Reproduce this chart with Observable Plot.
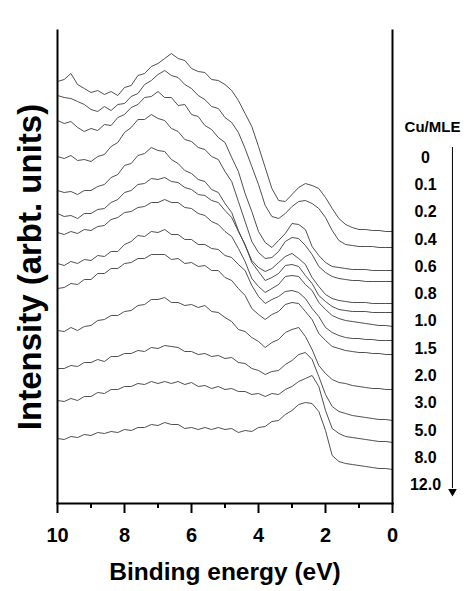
<!DOCTYPE html>
<html><head><meta charset="utf-8">
<script src="https://cdn.jsdelivr.net/npm/d3@7"></script>
<script src="https://cdn.jsdelivr.net/npm/@observablehq/plot@0.6"></script>
<style>body{margin:0;background:#fff}</style>
</head><body><div id="chart"></div>
<script>
// Binding energy grid (eV)
const energy = [10,9.8,9.6,9.4,9.2,9.0,8.8,8.6,8.4,8.2,8.0,7.8,7.6,7.4,7.2,7.0,6.8,6.6,6.4,6.2,6.0,5.8,5.6,5.4,5.2,5.0,4.8,4.6,4.4,4.2,4.0,3.8,3.6,3.4,3.2,3.0,2.8,2.6,2.4,2.2,2.0,1.8,1.6,1.4,1.2,1.0,0.8,0.6,0.4,0.2,0];
const coverage = ["0","0.1","0.2","0.4","0.6","0.8","1.0","1.5","2.0","3.0","5.0","8.0","12.0"];
// Intensity (arb. units, offset spectra as drawn)
const cov0   = [419,421,427,416,412,408,410,406,409,405,413,415,425,427,434,437,442,447,442,440,432,429,428,421,420,416,410,400,387,374,354,333,312,300,299,306,313,317,315,312,303,292,282,276,273,271,271,270,270,269,269];
const cov0_1 = [405,403,402,399,396,391,389,394,390,396,397,404,407,416,420,426,430,425,423,416,412,405,401,394,392,383,378,368,352,334,316,295,284,282,287,294,299,300,297,292,283,270,260,256,255,254,254,254,253,253,253];
const cov0_2 = [380,377,379,373,369,372,370,376,375,383,386,393,396,403,404,409,403,403,395,396,386,384,375,371,363,358,343,329,307,289,269,258,253,260,267,277,276,271,254,245,238,234,233,232,231,231,231,230,230,230,230];
const cov0_4 = [344,342,345,340,341,339,344,346,354,358,368,373,381,381,386,382,380,372,369,361,359,353,351,344,341,329,319,299,279,259,248,242,243,249,259,263,262,255,246,234,228,224,222,221,220,220,219,219,219,219,219];
const cov0_6 = [310,308,309,306,310,310,314,316,323,326,335,337,345,347,353,350,349,341,337,330,327,321,319,311,308,297,288,270,255,240,233,229,232,238,244,247,242,236,223,214,206,202,200,199,198,198,198,197,197,197,197];
const cov0_8 = [287,284,285,282,287,287,291,292,298,301,308,310,316,317,322,321,323,319,318,313,311,306,305,300,298,290,283,269,256,238,229,220,223,227,235,236,234,225,217,205,199,194,191,190,189,189,189,188,188,188,188];
const cov1_0 = [268,266,269,267,271,270,274,275,281,283,288,289,293,294,298,298,301,298,298,293,292,287,285,279,276,269,264,252,239,222,214,208,212,216,224,225,224,216,210,198,191,185,182,180,179,178,177,176,175,175,174];
const cov1_5 = [237,235,239,237,241,240,245,244,249,249,256,259,265,264,269,268,271,266,266,261,261,256,256,252,251,245,243,236,230,215,204,197,201,204,209,210,208,202,192,184,173,168,165,163,162,162,161,161,160,160,160];
const cov2_0 = [212,213,217,216,221,221,227,227,232,232,237,238,242,242,246,246,246,241,242,237,238,234,235,230,230,223,220,212,205,192,186,181,186,189,196,198,197,189,181,167,160,154,152,150,149,148,148,147,147,146,146];
const cov3_0 = [170,169,173,170,174,175,180,181,185,185,189,190,195,196,201,201,203,198,198,195,196,193,195,189,188,183,179,171,169,163,159,153,158,161,168,171,173,164,151,135,127,121,118,117,115,114,113,112,112,111,111];
const cov5_0 = [132,132,135,134,138,138,141,139,144,144,147,147,150,149,153,152,155,154,153,149,149,146,147,144,145,142,143,138,137,132,130,126,129,130,136,140,146,148,141,124,106,94,89,87,85,84,83,82,81,81,80];
const cov8_0 = [100,99,102,100,104,104,108,107,111,111,114,114,117,116,119,117,119,117,119,116,118,114,115,112,114,111,112,109,109,106,107,104,107,106,111,114,119,122,125,114,90,72,67,64,63,62,61,60,59,59,58];
const cov12_0= [62,61,64,63,66,65,68,67,69,68,71,70,73,73,76,75,78,76,76,72,73,71,73,71,73,71,72,68,70,69,73,74,79,80,86,90,96,98,97,89,70,45,39,37,36,35,34,33,32,32,31];
const spectra = [cov0,cov0_1,cov0_2,cov0_4,cov0_6,cov0_8,cov1_0,cov1_5,cov2_0,cov3_0,cov5_0,cov8_0,cov12_0];
const majorTicks = [10,8,6,4,2,0];
const minorTicks = [9,7,5,3,1];
const xTitle = "Binding energy (eV)";
const yTitle = "Intensity (arbt. units)";
const legendTitle = "Cu/MLE";

const rows = spectra.flatMap((s, k) => s.map((v, i) => ({E: energy[i], I: v, cov: coverage[k]})));
const font = "'Liberation Sans', Arial, sans-serif";

const chart = Plot.plot({
  width: 475, height: 591,
  marginLeft: 57, marginRight: 83, marginTop: 30, marginBottom: 88,
  x: {domain: [10, 0]},
  y: {domain: [-3, 470], axis: null},
  style: {fontFamily: font, background: "#fff", color: "#000"},
  marks: [
    Plot.line(rows, {x: "E", y: "I", z: "cov", stroke: "#3c3c3c", strokeWidth: 0.9}),
    Plot.axisX({ticks: majorTicks, tickSize: 10, tickPadding: 14, fontSize: 20, fontWeight: "bold", label: null, strokeWidth: 2, tickFormat: d => String(d)}),
    Plot.axisX({ticks: minorTicks, tickSize: 5, text: null, label: null, strokeWidth: 2}),
    Plot.frame({anchor: "bottom", strokeWidth: 2}),
    Plot.frame({anchor: "left", strokeWidth: 2}),
    Plot.frame({anchor: "right", strokeWidth: 2}),
    Plot.text([xTitle], {text: d => d, frameAnchor: "bottom", dy: 69, textAnchor: "middle", lineAnchor: "middle", fontSize: 24.5, fontWeight: "bold"}),
    Plot.text([yTitle], {text: d => d, frameAnchor: "left", dx: -27, rotate: -90, textAnchor: "middle", lineAnchor: "middle", fontSize: 33, fontWeight: "bold"}),
    Plot.text([legendTitle], {text: d => d, frameAnchor: "right", dx: 40, y: 373, textAnchor: "middle", lineAnchor: "middle", fontSize: 15, fontWeight: "bold"}),
    Plot.text(coverage, {text: d => d, frameAnchor: "right", dx: 33, y: (d, i) => 343 - i * 27.3, textAnchor: "middle", lineAnchor: "middle", fontSize: 16, fontWeight: "bold"}),
    Plot.ruleX([-1.79], {y1: 353, y2: 12, stroke: "#000", strokeWidth: 1}),
    Plot.dot([-1.79], {x: d => d, y: 9, symbol: "triangle", rotate: 180, r: 3.2, fill: "#000", stroke: null})
  ]
});
document.getElementById("chart").append(chart);
</script>
</body></html>
